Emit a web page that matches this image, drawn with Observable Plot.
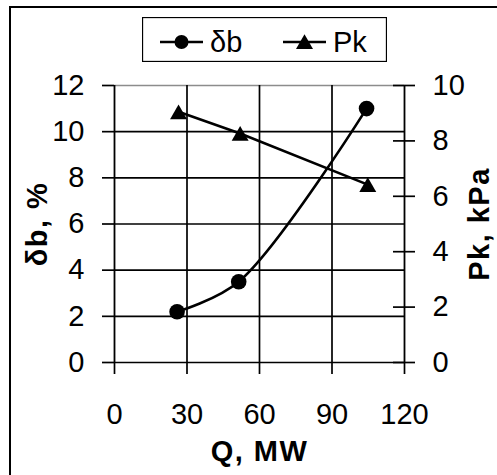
<!DOCTYPE html>
<html>
<head>
<meta charset="utf-8">
<script src="https://cdn.jsdelivr.net/npm/d3@7"></script>
<script src="https://cdn.jsdelivr.net/npm/@observablehq/plot@0.6"></script>
<style>
  html, body { margin: 0; padding: 0; background: #fff; }
  body { width: 497px; height: 475px; overflow: hidden; position: relative; font-family: "Liberation Sans", Arial, sans-serif; }
  #border { position: absolute; left: 9px; top: 6px; width: 600px; height: 600px; border: 2px solid #000; pointer-events: none; }
  #legend { position: absolute; left: 142px; top: 17px; }
  #chart { position: absolute; left: 0; top: 0; }
</style>
</head>
<body>
<div id="chart"></div>
<div id="border"></div>
<div id="legend"></div>
<script>
// ---- data ----
const seriesNames = ["δb", "Pk"];
const qDb = [25.9, 51.4, 104.3];
const dbValues = [2.2, 3.5, 11.0];
const qPk = [26.5, 52.0, 104.8];
const pkValues = [9.05, 8.27, 6.42];
const xTicks = [0, 30, 60, 90, 120];
const leftTicks = [0, 2, 4, 6, 8, 10, 12];
const rightTicks = [0, 2, 4, 6, 8, 10];
const xTitle = "Q, MW";
const leftTitle = "δb, %";
const rightTitle = "Pk, kPa";

const leftMax = 12, rightMax = 10;
const k = leftMax / rightMax;

const dbData = qDb.map((q, i) => ({q, v: dbValues[i]}));
const pkData = qPk.map((q, i) => ({q, v: pkValues[i] * k}));

const font = "'Liberation Sans', Arial, sans-serif";

const chart = Plot.plot({
  width: 497,
  height: 475,
  marginLeft: 114,
  marginRight: 93,
  marginTop: 85,
  marginBottom: 113,
  style: {fontFamily: font, fontSize: "29px", color: "#000", background: "transparent"},
  x: {domain: [0, 120]},
  y: {domain: [0, leftMax]},
  marks: [
    Plot.gridY(leftTicks.slice(0, -1), {stroke: "#000", strokeOpacity: 1, strokeWidth: 1.7}),
    Plot.gridY(leftTicks.slice(-1), {stroke: "#8c8c8c", strokeOpacity: 1, strokeWidth: 1.7}),
    Plot.gridX(xTicks.slice(1, -1), {stroke: "#000", strokeOpacity: 1, strokeWidth: 1.7}),
    Plot.ruleX([xTicks[0], xTicks[xTicks.length - 1]], {stroke: "#000", strokeWidth: 1.8}),
    Plot.axisX({ticks: xTicks, tickSize: 12, tickPadding: 29, label: null, strokeWidth: 1.7, fontSize: 29}),
    Plot.axisY({anchor: "left", ticks: leftTicks, tickSize: 12, tickPadding: 18, label: null, strokeWidth: 1.7, fontSize: 29}),
    Plot.axisY({anchor: "right", ticks: rightTicks.map(d => d * k), tickFormat: d => String(Math.round(d / k)),
      tickSize: 22, insetRight: 12, tickPadding: 18, label: null, strokeWidth: 1.7, fontSize: 29}),
    Plot.line(dbData, {x: "q", y: "v", curve: "catmull-rom", stroke: "#000", strokeWidth: 2.6}),
    Plot.line(pkData, {x: "q", y: "v", stroke: "#000", strokeWidth: 2.6}),
    Plot.dot(dbData, {x: "q", y: "v", r: 7.8, fill: "#000", stroke: "none"}),
    Plot.dot(pkData, {x: "q", y: "v", r: 6.3, symbol: "triangle", fill: "#000", stroke: "none", dy: 2.5}),
    Plot.text([xTitle], {frameAnchor: "bottom", dy: 89, text: d => d, fontWeight: "bold", fontSize: 29, lineAnchor: "middle"}),
    Plot.text([leftTitle], {frameAnchor: "left", dx: -76.5, rotate: -90, text: d => d, fontWeight: "bold", fontSize: 29, textAnchor: "middle"}),
    Plot.text([rightTitle], {frameAnchor: "right", dx: 75, rotate: -90, text: d => d, fontWeight: "bold", fontSize: 29, textAnchor: "middle"})
  ]
});
d3.select(chart).selectAll('g[font-weight="bold"]').attr("letter-spacing", "1.5px");
document.getElementById("chart").appendChild(chart);

// ---- legend ----
const lw = 245, lh = 45;
const leg = d3.select("#legend").append("svg").attr("width", lw).attr("height", lh)
  .style("font-family", font).style("font-size", "29px");
leg.append("rect").attr("x", 0.5).attr("y", 0.5).attr("width", lw - 1).attr("height", lh - 1)
  .attr("fill", "#fff").attr("stroke", "#000").attr("stroke-width", 1.3);
const items = [
  {name: seriesNames[0], sym: d3.symbolCircle, size: Math.PI * 7 * 7, x0: 18},
  {name: seriesNames[1], sym: d3.symbolTriangle, size: Math.PI * 6.3 * 6.3, x0: 141}
];
items.forEach(it => {
  const g = leg.append("g").attr("transform", `translate(${it.x0},25)`);
  g.append("line").attr("x1", 0).attr("x2", 43).attr("y1", 0).attr("y2", 0).attr("stroke", "#000").attr("stroke-width", 2.6);
  g.append("path").attr("d", d3.symbol(it.sym, it.size)()).attr("transform", `translate(21.5,${it.sym === d3.symbolTriangle ? 2 : 0})`).attr("fill", "#000");
  g.append("text").attr("x", 50).attr("y", 0).attr("dy", "0.35em").attr("fill", "#000").text(it.name);
});
</script>
</body>
</html>
